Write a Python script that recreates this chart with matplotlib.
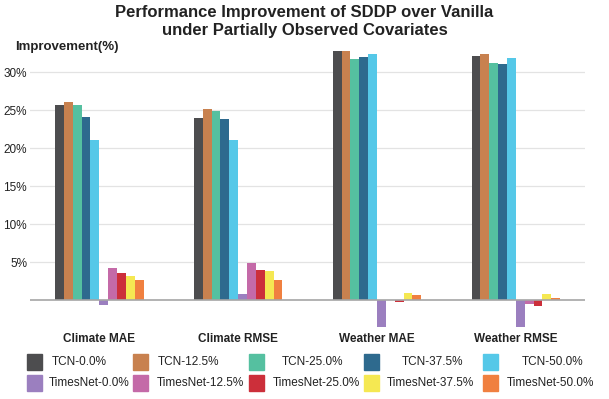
import numpy as np
import matplotlib
matplotlib.use("Agg")
import matplotlib.pyplot as plt
from matplotlib.patches import Rectangle

plt.rcParams['font.family'] = ['Liberation Sans', 'DejaVu Sans']

categories = ['Climate MAE', 'Climate RMSE', 'Weather MAE', 'Weather RMSE']
series = ['TCN-0.0%', 'TCN-12.5%', 'TCN-25.0%', 'TCN-37.5%', 'TCN-50.0%',
          'TimesNet-0.0%', 'TimesNet-12.5%', 'TimesNet-25.0%', 'TimesNet-37.5%', 'TimesNet-50.0%']
colors = ['#4d4d4f', '#c8814f', '#55c0a0', '#2e6a8e', '#55c8e8',
          '#9b7fbf', '#c46aa8', '#cc2f3a', '#f5e852', '#f08040']

# values per series, one per category (%)
tcn_00 = [25.75, 24.0, 32.8, 32.2]
tcn_125 = [26.1, 25.1, 32.8, 32.4]
tcn_25 = [25.75, 24.9, 31.8, 31.2]
tcn_375 = [24.1, 23.8, 32.0, 31.15]
tcn_50 = [21.1, 21.05, 32.4, 31.9]
tn_00 = [-0.65, 0.75, -3.6, -3.5]
tn_125 = [4.2, 4.85, 0.05, -0.55]
tn_25 = [3.6, 3.95, -0.3, -0.85]
tn_375 = [3.1, 3.8, 0.95, 0.85]
tn_50 = [2.6, 2.6, 0.7, 0.2]
values = [tcn_00, tcn_125, tcn_25, tcn_375, tcn_50,
          tn_00, tn_125, tn_25, tn_375, tn_50]

yticks = [5, 10, 15, 20, 25, 30]

W, H = 609, 399
fig = plt.figure(figsize=(W / 100, H / 100), dpi=100)
ax = fig.add_axes([0.049, 0.172, 0.912, 0.723])

x = np.arange(len(categories))
w = 0.0638
for i, (vals, c) in enumerate(zip(values, colors)):
    ax.bar(x + (i - 4.5) * w, vals, width=w, color=c, zorder=3)

ax.set_xlim(-0.5, 3.5)
ax.set_ylim(-4, 34)
ax.set_yticks(yticks)
ax.set_yticklabels([f'{t}%' for t in yticks], fontsize=8.5, color='#222222')
ax.yaxis.grid(True, color='#e3e3e3', linewidth=0.9, zorder=0)
ax.axhline(0, color='#a6a6a6', linewidth=1.2, zorder=4)
for s in ax.spines.values():
    s.set_visible(False)
ax.tick_params(axis='y', length=0, pad=2)
ax.set_xticks([])
for xi, cat in zip(x, categories):
    ax.text(xi, -4.4, cat, ha='center', va='top', fontsize=8.5,
            fontweight='bold', color='#222222')

fig.text(0.5, 1 - 13 / H, 'Performance Improvement of SDDP over Vanilla',
         ha='center', va='center', fontsize=12, fontweight='bold', color='#222222')
fig.text(0.5, 1 - 30 / H, 'under Partially Observed Covariates',
         ha='center', va='center', fontsize=12, fontweight='bold', color='#222222')
fig.text(15 / W, 1 - 47 / H, 'Improvement(%)', ha='left', va='center', fontsize=9.5,
         fontweight='bold', color='#222222')

# legend, laid out like the original: TCN row on top, TimesNet row below
patch_x = [27, 133, 249, 364, 483]
label_x = [[52, 158, 282, 402, 522], [49, 157, 273, 387, 507]]
row_y = [362, 383]
for r in range(2):
    for j in range(5):
        k = r * 5 + j
        fig.add_artist(Rectangle((patch_x[j] / W, 1 - (row_y[r] + 8) / H), 15 / W, 16 / H,
                                 transform=fig.transFigure, color=colors[k]))
        fig.text(label_x[r][j] / W, 1 - row_y[r] / H, series[k], ha='left', va='center',
                 fontsize=8.5, color='#222222')

fig.savefig('out.png', dpi=100)
